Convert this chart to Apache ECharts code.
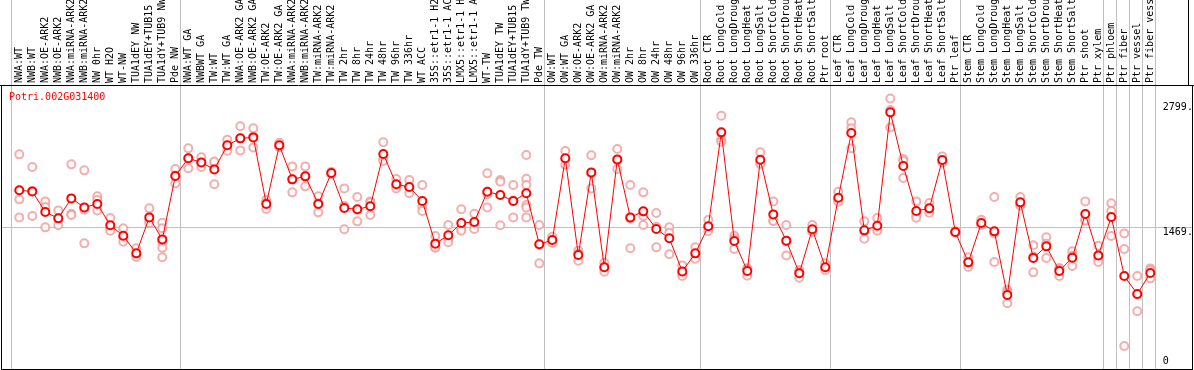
<!DOCTYPE html>
<html><head><meta charset="utf-8">
<script src="https://cdn.jsdelivr.net/npm/echarts@6/dist/echarts.min.js"></script>
<style>html,body{margin:0;padding:0;background:#fff;overflow:hidden}#c{width:1194px;height:370px}</style>
</head><body><div id="c"></div>
<script>
const geneId = 'Potri.002G031400';
const categories = [
 'NWA:WT','NWB:WT','NWA:OE-ARK2','NWB:OE-ARK2','NWA:miRNA-ARK2','NWB:miRNA-ARK2','NW 0hr','WT H2O','WT-NW','TUA1dEY NW','TUA1dEY+TUB15 NW','TUA1dY+TUB9 NW','Pde NW',
 'NWA:WT GA','NWBWT GA','TW:WT','TW:WT GA','NWA:OE-ARK2 GA','NWB:OE-ARK2 GA','TW:OE-ARK2','TW:OE-ARK2 GA','NWA:miRNA-ARK2 GA','NWB:miRNA-ARK2 GA','TW:miRNA-ARK2','TW:miRNA-ARK2 GA',
 'TW 2hr','TW 8hr','TW 24hr','TW 48hr','TW 96hr','TW 336hr','WT ACC','35S::etr1-1 H2O','35S::etr1-1 ACC','LMX5::etr1-1 H2O','LMX5::etr1-1 ACC','WT-TW','TUA1dEY TW','TUA1dEY+TUB15 TW','TUA1dY+TUB9 TW','Pde TW',
 'OW:WT','OW:WT GA','OW:OE-ARK2','OW:OE-ARK2 GA','OW:miRNA-ARK2','OW:miRNA-ARK2 GA','OW 2hr','OW 8hr','OW 24hr','OW 48hr','OW 96hr','OW 336hr',
 'Root CTR','Root LongCold','Root LongDrought','Root LongHeat','Root LongSalt','Root ShortCold','Root ShortDrought','Root ShortHeat','Root ShortSalt','Ptr root',
 'Leaf CTR','Leaf LongCold','Leaf LongDrought','Leaf LongHeat','Leaf LongSalt','Leaf ShortCold','Leaf ShortDrought','Leaf ShortHeat','Leaf ShortSalt','Ptr leaf',
 'Stem CTR','Stem LongCold','Stem LongDrought','Stem LongHeat','Stem LongSalt','Stem ShortCold','Stem ShortDrought','Stem ShortHeat','Stem ShortSalt','Ptr shoot','Ptr xylem',
 'Ptr phloem','Ptr fiber','Ptr vessel','Ptr fiber vessel'
];
const meanValues = [
 1853,1842,1629,1564,1770,1677,1712,1492,1385,1203,1574,1347,2001,
 2183,2141,2069,2317,2389,2399,1712,2317,1966,1997,1712,2031,1671,1657,1688,2227,1915,1887,1743,1303,1389,1516,1526,1839,1805,1743,1822,1296,
 1341,2183,1186,2038,1059,2172,1574,1636,1454,1358,1017,1203,
 1482,2451,1330,1021,2169,1605,1334,997,1451,1059,
 1777,2444,1440,1488,2657,2104,1640,1667,2166,1423,
 1110,1516,1430,773,1729,1155,1275,1021,1158,1609,1182,
 1578,969,784,1000
];
const replicateValues = [
 [2224,1760,1574],[2093,1845,1588],[1739,1681,1471],[1646,1555,1492],[2121,1612,1598],[2059,1653,1306],
 [1791,1753,1646],[1567,1470,1437],[1461,1370,1323],[1255,1189,1165],[1667,1540,1516],[1519,1461,1317,1261,1162],[2073,2005,1925],
 [2286,2183,2080],[2193,2137,2093],[2141,2151,1915],[2375,2314,2262],[2513,2389,2265],[2492,2409,2296],[1753,1723,1660],
 [2344,2310,2297],[2100,1966,1832],[2100,1997,1894],[1791,1719,1626],[2045,2028,2020],[1873,1695,1451],[1784,1654,1533],
 [1739,1727,1598],[2348,2178,2155],[1970,1902,1873],[1959,1880,1822],[1908,1684,1640],[1382,1265,1262],[1495,1355,1317],
 [1657,1454,1437],[1612,1512,1454],[2028,1812,1677],[1959,1942,1492],[1908,1747,1574],[2217,1973,1908,1701,1677,1574],[1495,1293,1100],
 [1375,1338,1310],[2258,2177,2114],[1231,1200,1127],[2214,2027,1873],[1107,1056,1014],[2279,2164,2073],[1908,1559,1255],
 [1832,1588,1495],[1619,1478,1265],[1471,1416,1193],[1079,993,969],[1265,1196,1148],
 [1550,1463,1433],[2623,2375,2355],[1385,1357,1248],[1050,1040,973],[2245,2138,2124],[1739,1540,1536],[1495,1325,1182],
 [1031,1008,952],[1495,1432,1426],[1100,1049,1028],
 [1839,1756,1736],[2554,2492,2286],[1533,1433,1354],[1567,1460,1437],[2799.3,2681,2502],[2176,2156,1980],[1739,1598,1571],
 [1722,1657,1622],[2203,2154,2141],[1430,1423,1416],
 [1162,1106,1062],[1550,1503,1495],[1784,1409,1114],[828,803,688],[1784,1708,1695],[1286,1172,1007],[1368,1302,1155],
 [1052,1042,969],[1224,1178,1072],[1739,1545,1543],[1282,1150,1114],
 [1719,1640,1382],[1409,1248,247],[969,778,605],[1048,1031,945]
];
const groupStarts = [0,13,41,53,63,73,84,85,86,87,88];
const yTickValues = [0, 1469.6, 2799.3];
const yMax = 2939.3;

const mono = '"DejaVu Sans Mono", monospace';
const chart = echarts.init(document.getElementById('c'), null, {renderer:'canvas'});
const repData = [];
replicateValues.forEach((arr,i)=>arr.forEach(v=>repData.push([i,v])));
const keyOf = v => v === yTickValues[0] ? 'b' : (v === yTickValues[1] ? 'm' : 't');
const lbl = {fontFamily:mono,fontSize:10,color:'#000'};

chart.setOption({
  animation:false,
  backgroundColor:'#fff',
  title:{text:geneId,left:9,top:92,padding:0,textStyle:{color:'#ff0000',fontFamily:mono,fontSize:10,fontWeight:'normal'}},
  grid:[
    {left:12.8,width:1144,top:85,height:285,containLabel:false,outerBoundsMode:'none'},
    {left:1,width:1191,top:85,height:285,containLabel:false,outerBoundsMode:'none'}
  ],
  xAxis:[
    {type:'category',gridIndex:0,data:categories,position:'top',boundaryGap:true,
     axisLine:{show:false},axisTick:{show:false},splitLine:{show:false},
     axisLabel:{rotate:90,interval:0,margin:2,fontFamily:mono,fontSize:10,color:'#000',hideOverlap:false}},
    {type:'value',gridIndex:1,show:false,min:0,max:1}
  ],
  yAxis:[
    {type:'value',gridIndex:0,position:'right',min:0,max:yMax,
     axisLine:{show:false},axisTick:{show:false},splitLine:{show:false},
     axisLabel:{customValues:yTickValues,margin:6,
       formatter:v=>'{'+keyOf(v)+'|'+String(v).slice(0,5)+'}',
       rich:{t:Object.assign({padding:[18,0,0,0]},lbl),m:Object.assign({padding:[9,0,0,0]},lbl),b:Object.assign({padding:[0,0,17,0]},lbl)}}},
    {type:'value',gridIndex:1,min:0,max:yMax,
     axisLine:{show:false},
     splitLine:{show:true,lineStyle:{color:'#c0c0c0',width:1}},
     axisLabel:{show:false,customValues:[yTickValues[1]]},
     axisTick:{show:false,customValues:[yTickValues[1]]}}
  ],
  series:[
    {type:'scatter',xAxisIndex:0,yAxisIndex:0,data:repData,symbol:'emptyCircle',symbolSize:8,
     itemStyle:{color:'#f09a9a',borderColor:'#f09a9a',borderWidth:1},z:2,silent:true},
    {type:'line',xAxisIndex:0,yAxisIndex:0,data:meanValues,symbol:'emptyCircle',symbolSize:8,showAllSymbol:true,
     lineStyle:{color:'#ff0000',width:1},itemStyle:{color:'#ff0000',borderColor:'#ff0000',borderWidth:1.3},z:3,silent:true}
  ]
});

const p0 = chart.convertToPixel({xAxisIndex:0}, 0);
const p1 = chart.convertToPixel({xAxisIndex:0}, 1);
const bw = p1 - p0;
const els = [];
groupStarts.forEach(g=>{
  const x = Math.round(p0 + (g - 0.615)*bw) + 0.5;
  els.push({type:'line',z:1,shape:{x1:x,y1:0,x2:x,y2:369},style:{stroke:'#c0c0c0',lineWidth:1}});
});
const blk = {stroke:'#000',lineWidth:1};
els.push({type:'line',z:100,shape:{x1:0,y1:85.5,x2:1194,y2:85.5},style:blk});
els.push({type:'line',z:100,shape:{x1:1.5,y1:85,x2:1.5,y2:370},style:blk});
els.push({type:'line',z:100,shape:{x1:1,y1:369.5,x2:1193,y2:369.5},style:blk});
els.push({type:'line',z:100,shape:{x1:1192.5,y1:85,x2:1192.5,y2:370},style:blk});
els.push({type:'line',z:100,shape:{x1:1188.5,y1:0,x2:1188.5,y2:85},style:blk});
chart.setOption({graphic:{elements:els}});
</script>
</body></html>
